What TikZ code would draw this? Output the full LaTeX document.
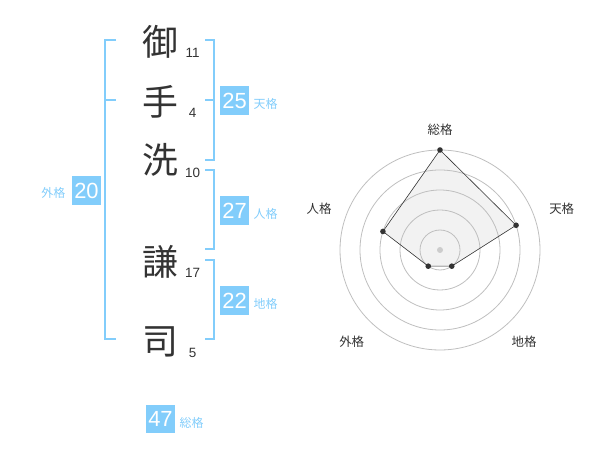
\documentclass[tikz,border=0pt]{standalone}
\usepackage{fontspec}
\setmainfont{Noto Sans CJK JP}
\newfontfamily\numfont{Liberation Sans}
\usetikzlibrary{positioning}
\definecolor{bracket}{RGB}{130,205,251}
\definecolor{ink}{RGB}{51,51,51}

\begin{document}
\begin{tikzpicture}[
    x=1bp, y=-1bp,
    kanji/.style={text=ink, font=\fontsize{36}{36}\selectfont, inner sep=0pt},
    stroke/.style={text=ink, font=\numfont\fontsize{13.5}{14}\selectfont, inner sep=0pt},
    score/.style={fill=bracket, text=white, font=\numfont\fontsize{22}{22}\selectfont, minimum width=28.5bp, minimum height=28.5bp, inner sep=0pt},
    kaku/.style={text=bracket, font=\fontsize{12}{12}\selectfont, inner sep=0pt},
    brace/.style={draw=bracket, line width=2bp},
    ring/.style={draw=gray!50, line width=0.8bp},
    axis/.style={text=ink, font=\fontsize{12.5}{12.5}\selectfont, inner sep=0pt}
]
    \useasboundingbox (0,0) rectangle (600,470);

    % name characters and stroke counts
    \node[kanji] (c1) at (160,42) {御};
    \node[kanji] (c2) at (160,102) {手};
    \node[kanji] (c3) at (160,160) {洗};
    \node[kanji] (c4) at (160,262) {謙};
    \node[kanji] (c5) at (160,342) {司};
    \node[stroke] (n1) at (192.5,52.7) {11};
    \node[stroke] (n2) at (192.5,113.3) {4};
    \node[stroke] (n3) at (192.5,172.7) {10};
    \node[stroke] (n4) at (192.5,272.7) {17};
    \node[stroke] (n5) at (192.5,352.7) {5};

    % brackets
    \draw[brace] (116,40) -| (105,339.3) -- (116,339.3);
    \draw[brace] (105,100) -- (116,100);
    \draw[brace] (205,40) -| (214.3,160) -- (205,160);
    \draw[brace] (205,100) -- (214.3,100);
    \draw[brace] (205,170) -| (214.3,249.3) -- (205,249.3);
    \draw[brace] (205,260) -| (214.3,339.3) -- (205,339.3);

    % scores
    \node[score] (gai) at (86.5,190.5) {20};
    \node[kaku] (gail) at (53.3,193.3) {外格};
    \node[score] (ten) at (234.5,100.5) {25};
    \node[kaku] (tenl) at (265.7,104) {天格};
    \node[score] (jin) at (234.5,210.5) {27};
    \node[kaku] (jinl) at (265.7,213.5) {人格};
    \node[score] (chi) at (234.5,300.5) {22};
    \node[kaku] (chil) at (265.7,303.5) {地格};
    \node[score] (sou) at (160.5,419) {47};
    \node[kaku] (soul) at (191.7,422.5) {総格};

    % radar chart
    \begin{scope}[shift={(440,250)}, yscale=-1]
        \fill[gray!10] (90:100) -- (18:80) -- (-54:20) -- (-126:20) -- (162:60) -- cycle;
        \foreach \r in {20,40,60,80,100}
            \draw[ring] (0,0) circle (\r);
        \draw[ink, line width=0.6bp]
            (90:100) -- (18:80) -- (-54:20) -- (-126:20) -- (162:60) -- cycle;
        \foreach \a/\v in {90/100, 18/80, -54/20, -126/20, 162/60}
            \fill[ink] (\a:\v) circle (2.8);
        \fill[gray!40] (0,0) circle (3);
    \end{scope}
    \node[axis] (asou) at (440,130) {総格};
    \node[axis] (aten) at (561.7,208.3) {天格};
    \node[axis] (achi) at (524,341.7) {地格};
    \node[axis] (agai) at (351.7,341.7) {外格};
    \node[axis] (ajin) at (319,208.3) {人格};
\end{tikzpicture}
\end{document}
